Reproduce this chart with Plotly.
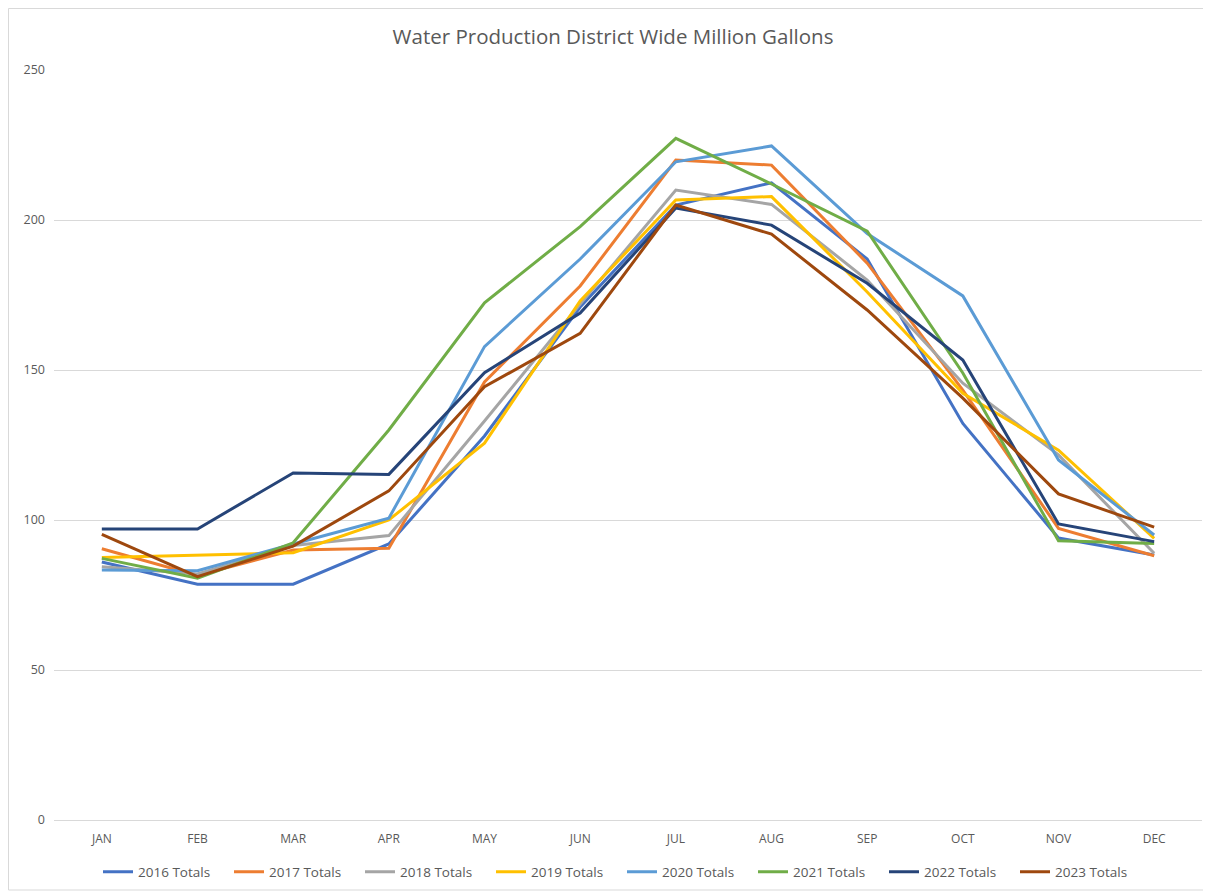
import plotly.graph_objects as go

months = ["JAN", "FEB", "MAR", "APR", "MAY", "JUN", "JUL", "AUG", "SEP", "OCT", "NOV", "DEC"]
series_names = ["2016 Totals", "2017 Totals", "2018 Totals", "2019 Totals",
                "2020 Totals", "2021 Totals", "2022 Totals", "2023 Totals"]

v2016 = [86, 78.6, 78.6, 92, 128, 171, 205, 212.4, 187, 132.2, 94, 88.3]
v2017 = [90.4, 81.5, 90, 90.6, 146, 178, 220, 218.3, 185.6, 143.3, 97.2, 88.1]
v2018 = [84.4, 82, 91.5, 94.8, 133, 172, 210, 205.2, 180, 145.6, 121.7, 88.9]
v2019 = [87.5, 88.3, 89.1, 100, 125.6, 173, 206.7, 207.8, 176, 142.2, 123.3, 93.9]
v2020 = [83.3, 83.1, 92, 100.6, 157.8, 187, 219.4, 224.7, 195.5, 174.7, 120, 95]
v2021 = [87.2, 80.6, 92.4, 130, 172.4, 197.8, 227.2, 212, 196.3, 149, 93.1, 92.2]
v2022 = [97, 97, 115.7, 115.2, 149.1, 169, 204, 198.3, 178.9, 153.3, 98.7, 92.8]
v2023 = [95.2, 81.1, 91.3, 109.7, 144.4, 162.2, 205, 195.3, 170, 140.6, 108.7, 97.6]

all_values = [v2016, v2017, v2018, v2019, v2020, v2021, v2022, v2023]
colors = ["#4472C4", "#ED7D31", "#A5A5A5", "#FFC000", "#5B9BD5", "#70AD47", "#264478", "#9E480E"]

fig = go.Figure()
for name, vals, col in zip(series_names, all_values, colors):
    fig.add_trace(go.Scatter(x=months, y=vals, name=name, mode="lines",
                             line=dict(color=col, width=3)))

# page body has an 8px offset; margins compensate so the plot area lands at 54..1202 x 70..820
L, T, R, B = 46, 62, 17, 81
PW, PH = 1211 - L - R, 893 - T - B

fig.update_layout(
    width=1211, height=893,
    margin=dict(l=L, r=R, t=T, b=B, autoexpand=False),
    paper_bgcolor="white", plot_bgcolor="white",
    title=dict(text="Water Production District Wide Million Gallons",
               x=605 / 1211, xanchor="center", y=1 - 29 / 893, yanchor="middle",
               font=dict(family="Open Sans, sans-serif", size=20.5, color="#595959")),
    xaxis=dict(range=[-0.5, 11.5], showgrid=False, showline=False, ticks="",
               automargin=False, ticklabelstandoff=10,
               tickfont=dict(family="Open Sans, sans-serif", size=12, color="#595959")),
    yaxis=dict(range=[0, 250], tickvals=[0, 50, 100, 150, 200, 250],
               showgrid=True, gridcolor="#D9D9D9", gridwidth=1, zeroline=True,
               zerolinecolor="#D9D9D9", zerolinewidth=1, showline=False, ticks="",
               automargin=False, ticklabelstandoff=8,
               tickfont=dict(family="Open Sans, sans-serif", size=12.5, color="#595959")),
    legend=dict(orientation="h", x=0.5 - 6 / PW, xanchor="center", y=-52 / PH, yanchor="middle",
                font=dict(family="Open Sans, sans-serif", size=13.5, color="#595959"),
                entrywidth=86, itemwidth=30, traceorder="normal"),
    showlegend=True,
)

fig.add_shape(type="rect", xref="paper", yref="paper",
              x0=(0.5 - L) / PW, x1=(1201 - L) / PW,
              y0=(PH + T - 882) / PH, y1=(PH + T - 0.5) / PH,
              line=dict(color="#D9D9D9", width=1), layer="below")

fig.write_html("out.html")
